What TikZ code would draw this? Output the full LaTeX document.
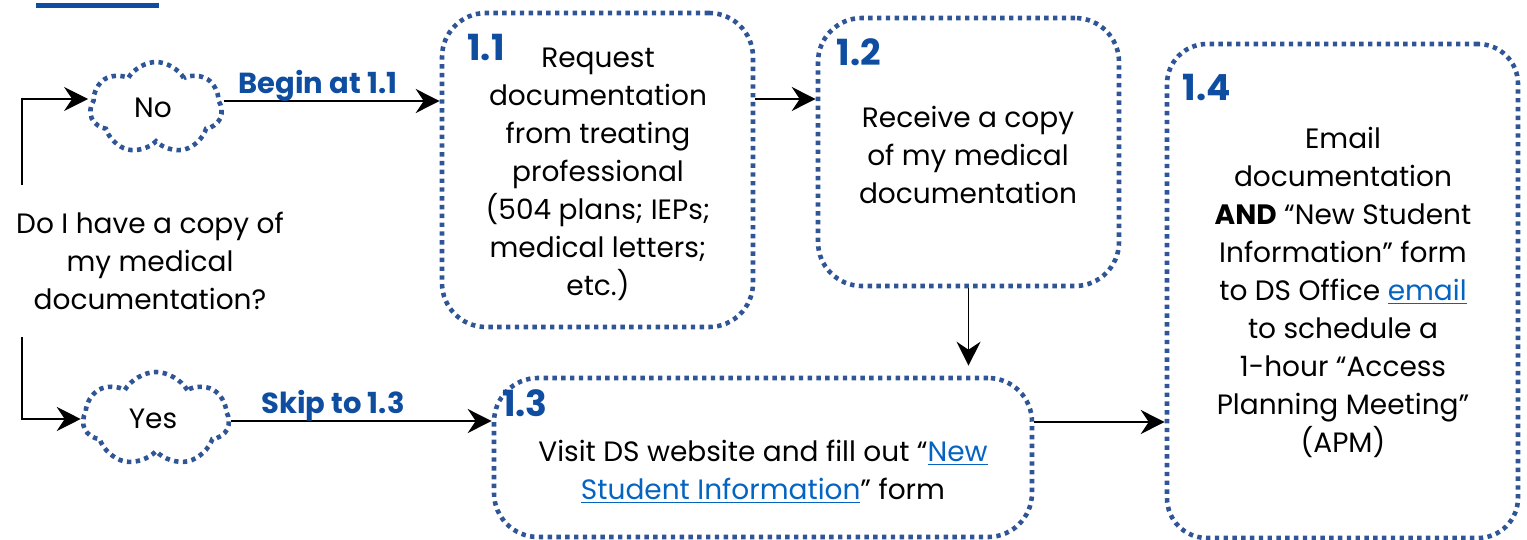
\documentclass[tikz,border=0pt]{standalone}
\usepackage{fontspec}
\setmainfont{Poppins}
\usetikzlibrary{arrows.meta,shapes.symbols}
\definecolor{dotblue}{RGB}{47,85,151}
\definecolor{numblue}{RGB}{14,77,160}
\definecolor{linkblue}{RGB}{5,99,193}
\newcommand{\dslink}[1]{\textcolor{linkblue}{\underline{#1}}}

\begin{document}
\begin{tikzpicture}[x=0.5pt,y=-0.5pt,
  dotline/.style={draw=dotblue,line width=2.3pt,dash pattern=on 2.2pt off 2.2pt},
  stepbox/.style={dotline,rounded corners=22pt,inner sep=0},
  answer/.style={dotline,cloud,cloud puffs=7,cloud puff arc=120,inner sep=0,
    font=\fontsize{14}{19}\selectfont},
  boxtext/.style={align=center,inner sep=0,font=\fontsize{14}{19}\selectfont},
  stepnum/.style={inner sep=0,text=numblue,font=\fontsize{18}{18}\selectfont\bfseries},
  flowlabel/.style={inner sep=0,text=numblue,font=\fontsize{14.5}{16}\selectfont\bfseries},
  flow/.style={line width=0.8pt,-{Stealth[length=12pt,width=12pt,inset=4pt]}}]
\useasboundingbox (0,0) rectangle (1527,540);

% heading rule, cut off at the top
\fill[numblue] (36,3) rectangle (159,8);

% question and answers
\node[boxtext] (q) at (150,261) {Do I have a copy of\\my medical\\documentation?};
\node[answer,minimum width=66pt,minimum height=46pt] (no) at (156,108) {};
\node[inner sep=0,font=\fontsize{14}{19}\selectfont] (notext) at (153,108) {No};
\node[answer,minimum width=73pt,minimum height=47pt] (yes) at (156,419) {};
\node[inner sep=0,font=\fontsize{14}{19}\selectfont] (yestext) at (153,419) {Yes};
\coordinate (qtop) at (22,185);
\coordinate (qbot) at (22,337);

% steps
\node[stepbox,minimum width=155.5pt,minimum height=157pt] (b11) at (597.5,170) {};
\node[stepbox,minimum width=150.5pt,minimum height=134pt] (b12) at (968.5,152) {};
\node[stepbox,minimum width=269pt,minimum height=79.5pt] (b13) at (763,457.5) {};
\node[stepbox,minimum width=175.5pt,minimum height=247pt,rounded corners=20pt] (b14) at (1342.5,291) {};

\node[stepnum] (n11) at (486,48) {1.1};
\node[stepnum] (n12) at (859,52) {1.2};
\node[stepnum] (n13) at (525,403) {1.3};
\node[stepnum] (n14) at (1207,88) {1.4};

\node[boxtext] (t11) at (598,174) {Request\\documentation\\from treating\\professional\\(504 plans; IEPs;\\medical letters;\\etc.)};
\node[boxtext] (t12) at (968,155) {Receive a copy\\of my medical\\documentation};
\node[boxtext] (t13) at (763,472) {Visit DS website and fill out “\dslink{New}\\\dslink{Student Information}” form};
\node[boxtext] (t14) at (1343,292) {Email\\documentation\\\textbf{AND} “New Student\\Information” form\\to DS Office \dslink{email}\\to schedule a\\1-hour “Access\\Planning Meeting”\\(APM)};

% connectors
\draw[flow] (qtop) |- ([yshift=4.5pt]no.west);
\draw[flow] (qbot) |- (yes.west);
\draw[flow] ([yshift=3.5pt]no.east) -- ([yshift=3.5pt]no.east -| b11.west);
\node[flowlabel] (lbegin) at (318,86) {Begin at 1.1};
\draw[flow] ([yshift=-1pt]yes.east) -- ([yshift=-1pt]yes.east -| b13.west);
\node[flowlabel] (lskip) at (333,406) {Skip to 1.3};
\draw[flow] ([yshift=35.5pt]b11.east) -- ([yshift=35.5pt]b11.east -| b12.west);
\draw[flow,shorten >=5pt] (b12.south) -- (b12.south |- b13.north);
\draw[flow] ([yshift=17.75pt]b13.east) -- ([yshift=17.75pt]b13.east -| b14.west);
\end{tikzpicture}
\end{document}
